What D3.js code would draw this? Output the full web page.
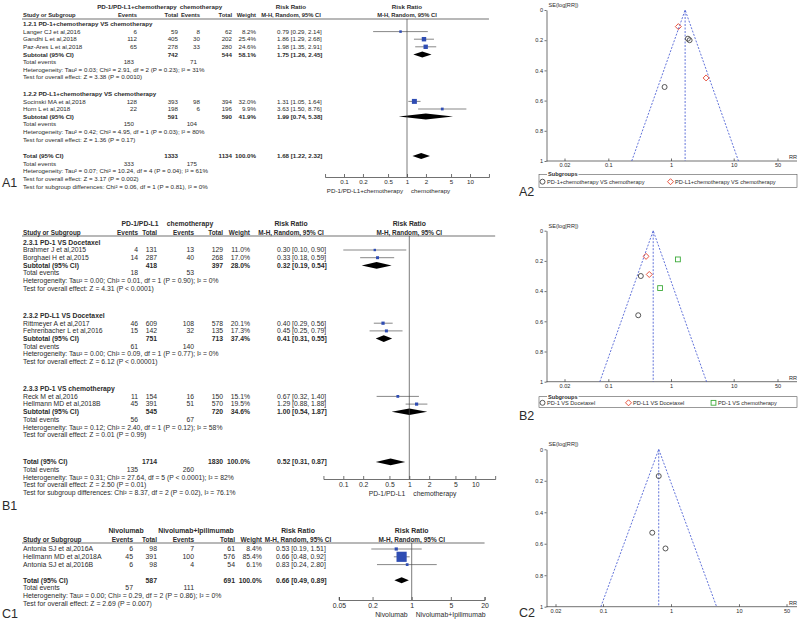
<!DOCTYPE html>
<html>
<head>
<meta charset="utf-8">
<script src="https://d3js.org/d3.v7.min.js"></script>
<style>
    body { margin: 0; background: #fff; }
    svg { display: block; font-family: "Liberation Sans", Arial, sans-serif; }
    text { fill: #2b2b2b; }
</style>
</head>
<body>
<svg id="chart" width="800" height="621"></svg>
<script>
// ---------- A1 : PD-1/PD-L1+chemotherapy vs chemotherapy ----------
var a1Arms = ['PD-1/PD-L1+chemotherapy', 'chemotherapy'];
var a1Subgroups = ['1.2.1 PD-1+chemotherapy VS chemotherapy', '1.2.2 PD-L1+chemotherapy VS chemotherapy'];
// study, subgroup, events, total, events, total, weight %, RR, lower, upper
var a1Studies = [
    ['Langer CJ et al,2016', 0, 6, 59, 8, 62, 8.2, 0.79, 0.29, 2.14],
    ['Gandhi L et al,2018', 0, 112, 405, 30, 202, 25.4, 1.86, 1.29, 2.68],
    ['Paz-Ares L et al,2018', 0, 65, 278, 33, 280, 24.6, 1.98, 1.35, 2.91],
    ['Socinski MA et al,2018', 1, 128, 393, 98, 394, 32.0, 1.31, 1.05, 1.64],
    ['Horn L et al,2018', 1, 22, 198, 6, 196, 9.9, 3.63, 1.50, 8.76]
];
// total, total, weight %, RR, lower, upper, events, events
var a1Subtotals = [
    [742, 544, 58.1, 1.75, 1.26, 2.45, 183, 71],
    [591, 590, 41.9, 1.99, 0.74, 5.38, 150, 104]
];
var a1SubNotes = [
    ['Heterogeneity: Tau\u00b2 = 0.03; Chi\u00b2 = 2.91, df = 2 (P = 0.23); I\u00b2 = 31%',
        'Test for overall effect: Z = 3.38 (P = 0.0010)'],
    ['Heterogeneity: Tau\u00b2 = 0.42; Chi\u00b2 = 4.95, df = 1 (P = 0.03); I\u00b2 = 80%',
        'Test for overall effect: Z = 1.36 (P = 0.17)']
];
var a1Overall = [1333, 1134, 100.0, 1.68, 1.22, 2.32, 333, 175];
var a1OverallNotes = [
    'Heterogeneity: Tau\u00b2 = 0.07; Chi\u00b2 = 10.24, df = 4 (P = 0.04); I\u00b2 = 61%',
    'Test for overall effect: Z = 3.17 (P = 0.002)',
    'Test for subgroup differences: Chi\u00b2 = 0.06, df = 1 (P = 0.81), I\u00b2 = 0%'
];
var a1Ticks = [0.1, 0.2, 0.5, 1, 2, 5, 10];
var a1Favours = ['PD-1/PD-L1+chemotherapy', 'chemotherapy'];

// ---------- B1 : PD-1/PD-L1 vs chemotherapy ----------
var b1Arms = ['PD-1/PD-L1', 'chemotherapy'];
var b1Subgroups = ['2.3.1 PD-1 VS Docetaxel', '2.3.2 PD-L1 VS Docetaxel', '2.3.3 PD-1 VS chemotherapy'];
var b1Studies = [
    ['Brahmer J et al,2015', 0, 4, 131, 13, 129, 11.0, 0.30, 0.10, 0.90],
    ['Borghaei H et al,2015', 0, 14, 287, 40, 268, 17.0, 0.33, 0.18, 0.59],
    ['Rittmeyer A et al,2017', 1, 46, 609, 108, 578, 20.1, 0.40, 0.29, 0.56],
    ['Fehrenbacher L et al,2016', 1, 15, 142, 32, 135, 17.3, 0.45, 0.25, 0.79],
    ['Reck M et al,2016', 2, 11, 154, 16, 150, 15.1, 0.67, 0.32, 1.40],
    ['Hellmann MD et al,2018B', 2, 45, 391, 51, 570, 19.5, 1.29, 0.88, 1.88]
];
var b1Subtotals = [
    [418, 397, 28.0, 0.32, 0.19, 0.54, 18, 53],
    [751, 713, 37.4, 0.41, 0.31, 0.55, 61, 140],
    [545, 720, 34.6, 1.00, 0.54, 1.87, 56, 67]
];
var b1SubNotes = [
    ['Heterogeneity: Tau\u00b2 = 0.00; Chi\u00b2 = 0.01, df = 1 (P = 0.90); I\u00b2 = 0%',
        'Test for overall effect: Z = 4.31 (P < 0.0001)'],
    ['Heterogeneity: Tau\u00b2 = 0.00; Chi\u00b2 = 0.09, df = 1 (P = 0.77); I\u00b2 = 0%',
        'Test for overall effect: Z = 6.12 (P < 0.00001)'],
    ['Heterogeneity: Tau\u00b2 = 0.12; Chi\u00b2 = 2.40, df = 1 (P = 0.12); I\u00b2 = 58%',
        'Test for overall effect: Z = 0.01 (P = 0.99)']
];
var b1Overall = [1714, 1830, 100.0, 0.52, 0.31, 0.87, 135, 260];
var b1OverallNotes = [
    'Heterogeneity: Tau\u00b2 = 0.31; Chi\u00b2 = 27.64, df = 5 (P < 0.0001); I\u00b2 = 82%',
    'Test for overall effect: Z = 2.50 (P = 0.01)',
    'Test for subgroup differences: Chi\u00b2 = 8.37, df = 2 (P = 0.02), I\u00b2 = 76.1%'
];
var b1Ticks = [0.1, 0.2, 0.5, 1, 2, 5, 10];
var b1Favours = ['PD-1/PD-L1', 'chemotherapy'];

// ---------- C1 : Nivolumab vs Nivolumab+Ipilimumab ----------
var c1Arms = ['Nivolumab', 'Nivolumab+Ipilimumab'];
var c1Studies = [
    ['Antonia SJ et al,2016A', 0, 6, 98, 7, 61, 8.4, 0.53, 0.19, 1.51],
    ['Hellmann MD et al,2018A', 0, 45, 391, 100, 576, 85.4, 0.66, 0.48, 0.92],
    ['Antonia SJ et al,2016B', 0, 6, 98, 4, 54, 6.1, 0.83, 0.24, 2.80]
];
var c1Overall = [587, 691, 100.0, 0.66, 0.49, 0.89, 57, 111];
var c1OverallNotes = [
    'Heterogeneity: Tau\u00b2 = 0.00; Chi\u00b2 = 0.29, df = 2 (P = 0.86); I\u00b2 = 0%',
    'Test for overall effect: Z = 2.69 (P = 0.007)'
];
var c1Ticks = [0.05, 0.2, 1, 5, 20];
var c1Favours = ['Nivolumab', 'Nivolumab+Ipilimumab'];

// ---------- funnel plots (SE of log RR, same study order as above) ----------
var a2SE = [0.51, 0.19, 0.20, 0.11, 0.45];
var a2Legend = ['PD-1+chemotherapy VS chemotherapy', 'PD-L1+chemotherapy VS chemotherapy'];
var b2SE = [0.56, 0.30, 0.17, 0.29, 0.38, 0.19];
var b2Legend = ['PD-1 VS Docetaxel', 'PD-L1 VS Docetaxel', 'PD-1 VS chemotherapy'];
var c2SE = [0.53, 0.17, 0.63];
var funnelXTicks = [0.02, 0.1, 1, 10, 50];
var funnelYTicks = [0, 0.2, 0.4, 0.6, 0.8, 1];

var svg = d3.select('#chart');
svg.append('rect').attr('width', 800).attr('height', 621).attr('fill', '#fff');

function label(g, x, y, s, anchor, bold) {
    return g.append('text')
        .attr('x', x)
        .attr('y', y)
        .attr('dy', '0.35em')
        .attr('text-anchor', anchor || 'start')
        .style('font-weight', bold ? 'bold' : null)
        .text(s);
}

function ciText(rr, lo, hi) {
    return rr.toFixed(2) + ' [' + lo.toFixed(2) + ', ' + hi.toFixed(2) + ']';
}

function drawForest(cfg) {
    var g = svg.append('g').style('font-size', cfg.fontSize + 'px');
    var c = cfg.cols;
    var x = d3.scaleLog().domain([0.05, 20])
        .range([cfg.x1 + cfg.decade * Math.log10(0.05), cfg.x1 + cfg.decade * Math.log10(20)]);

    // headers
    label(g, cfg.armX[0], cfg.h1, cfg.arms[0], 'middle', true);
    label(g, cfg.armX[1], cfg.h1, cfg.arms[1], 'middle', true);
    label(g, c.ciHead, cfg.h1, 'Risk Ratio', 'middle', true);
    label(g, x(1), cfg.h1, 'Risk Ratio', 'middle', true);
    var hg = g.append('g').style('font-size', (cfg.fontSize * 0.94) + 'px');
    label(hg, c.name, cfg.h2, 'Study or Subgroup', 'start', true);
    label(hg, c.expEv, cfg.h2, 'Events', 'end', true);
    label(hg, c.expTot, cfg.h2, 'Total', 'end', true);
    label(hg, c.ctlEv, cfg.h2, 'Events', 'end', true);
    label(hg, c.ctlTot, cfg.h2, 'Total', 'end', true);
    label(hg, c.weight, cfg.h2, 'Weight', 'end', true);
    label(hg, c.ciHead, cfg.h2, 'M-H, Random, 95% CI', 'middle', true);
    label(hg, x(1), cfg.h2, 'M-H, Random, 95% CI', 'middle', true);
    g.append('line')
        .attr('x1', c.name - 1).attr('x2', x(20))
        .attr('y1', cfg.lineY).attr('y2', cfg.lineY)
        .attr('stroke', '#333').attr('stroke-width', 0.7);

    // rows
    var rows = [];
    if (cfg.subgroups) {
        cfg.subgroups.forEach(function (name, i) {
            if (i > 0) rows.push({type: 'gap'});
            rows.push({type: 'head', text: name});
            cfg.studies.filter(function (s) { return s[1] === i; }).forEach(function (s) {
                rows.push({type: 'study', d: s});
            });
            rows.push({type: 'sub', text: 'Subtotal (95% CI)', d: cfg.subtotals[i]});
            rows.push({type: 'events', d: cfg.subtotals[i]});
            cfg.subNotes[i].forEach(function (t) { rows.push({type: 'note', text: t}); });
        });
    } else {
        cfg.studies.forEach(function (s) { rows.push({type: 'study', d: s}); });
    }
    rows.push({type: 'gap'});
    rows.push({type: 'sub', text: 'Total (95% CI)', d: cfg.overall});
    rows.push({type: 'events', d: cfg.overall});
    cfg.overallNotes.forEach(function (t) { rows.push({type: 'note', text: t}); });

    var y = cfg.y0;
    rows.forEach(function (r) {
        if (r.type === 'gap') { y += cfg.gap; return; }
        r.y = y;
        y += cfg.pitch;
    });

    rows.forEach(function (r) {
        var d = r.d;
        if (r.type === 'head') {
            label(g, c.name, r.y, r.text, 'start', true);
        } else if (r.type === 'study') {
            label(g, c.name, r.y, d[0]);
            label(g, c.expEv, r.y, d[2], 'end');
            label(g, c.expTot, r.y, d[3], 'end');
            label(g, c.ctlEv, r.y, d[4], 'end');
            label(g, c.ctlTot, r.y, d[5], 'end');
            label(g, c.weight, r.y, d[6].toFixed(1) + '%', 'end');
            label(g, c.ci, r.y, ciText(d[7], d[8], d[9]));
            g.append('line')
                .attr('x1', x(Math.max(d[8], 0.05))).attr('x2', x(Math.min(d[9], 20)))
                .attr('y1', r.y).attr('y2', r.y)
                .attr('stroke', '#555').attr('stroke-width', 0.7);
            var side = cfg.boxK * Math.sqrt(d[6]);
            g.append('rect')
                .attr('x', x(d[7]) - side / 2).attr('y', r.y - side / 2)
                .attr('width', side).attr('height', side)
                .attr('fill', '#2f4db3');
        } else if (r.type === 'sub') {
            label(g, c.name, r.y, r.text, 'start', true);
            label(g, c.expTot, r.y, d[0], 'end', true);
            label(g, c.ctlTot, r.y, d[1], 'end', true);
            label(g, c.weight, r.y, d[2].toFixed(1) + '%', 'end', true);
            label(g, c.ci, r.y, ciText(d[3], d[4], d[5]), 'start', true);
            var h = cfg.diamondH;
            g.append('path')
                .attr('d', 'M' + x(d[4]) + ',' + r.y + 'L' + x(d[3]) + ',' + (r.y - h) +
                    'L' + x(d[5]) + ',' + r.y + 'L' + x(d[3]) + ',' + (r.y + h) + 'Z')
                .attr('fill', '#000');
        } else if (r.type === 'events') {
            label(g, c.name, r.y, 'Total events');
            label(g, c.expEv + cfg.teShift, r.y, d[6], 'end');
            label(g, c.ctlEv + cfg.teShift, r.y, d[7], 'end');
        } else if (r.type === 'note') {
            label(g, c.name, r.y, r.text);
        }
    });

    // line of no effect
    g.append('line')
        .attr('x1', x(1)).attr('x2', x(1))
        .attr('y1', cfg.lineY).attr('y2', cfg.axisY)
        .attr('stroke', '#444').attr('stroke-width', 0.7);

    // axis
    var ax = g.append('g')
        .attr('transform', 'translate(0,' + cfg.axisY + ')')
        .call(d3.axisBottom(x)
            .tickValues(cfg.ticks)
            .tickFormat(function (d) { return String(d); })
            .tickSizeInner(-3)
            .tickSizeOuter(-3)
            .tickPadding(3));
    ax.attr('font-size', null).attr('font-family', null);
    ax.selectAll('path, line').attr('stroke', '#333').attr('stroke-width', 0.7);
    ax.selectAll('text').style('fill', '#2b2b2b');

    label(g, x(1) - 4, cfg.favY, cfg.favours[0], 'end');
    label(g, x(1) + 4, cfg.favY, cfg.favours[1], 'start');
}

function drawSymbol(g, type, cx, cy, color) {
    if (type === 0) {
        g.append('circle').attr('cx', cx).attr('cy', cy).attr('r', 2.5)
            .attr('fill', 'none').attr('stroke', color).attr('stroke-width', 0.9);
    } else if (type === 1) {
        var s = 3;
        g.append('path')
            .attr('d', 'M' + cx + ',' + (cy - s) + 'L' + (cx + s) + ',' + cy + 'L' + cx + ',' + (cy + s) +
                'L' + (cx - s) + ',' + cy + 'Z')
            .attr('fill', 'none').attr('stroke', color).attr('stroke-width', 0.9);
    } else {
        g.append('rect').attr('x', cx - 2.4).attr('y', cy - 2.4).attr('width', 4.8).attr('height', 4.8)
            .attr('fill', 'none').attr('stroke', color).attr('stroke-width', 0.9);
    }
}

var symbolColors = ['#444', '#e4432d', '#3dab3a'];

function drawFunnel(cfg) {
    var g = svg.append('g').style('font-size', '5.6px');
    var x = d3.scaleLog().domain([0.02, 50]).range([cfg.x002, cfg.x50]);
    var y = d3.scaleLinear().domain([0, 1]).range([cfg.yTop, cfg.yBot]);

    var ya = g.append('g')
        .attr('transform', 'translate(' + cfg.axX + ',0)')
        .call(d3.axisLeft(y)
            .tickValues(funnelYTicks)
            .tickFormat(function (d) { return String(d); })
            .tickSizeInner(2)
            .tickSizeOuter(0)
            .tickPadding(1.5));
    ya.attr('font-size', null).attr('font-family', null);
    ya.selectAll('path, line').attr('stroke', '#333').attr('stroke-width', 0.7);

    g.append('line')
        .attr('x1', cfg.axX).attr('x2', 797)
        .attr('y1', cfg.yBot).attr('y2', cfg.yBot)
        .attr('stroke', '#333').attr('stroke-width', 0.7);
    var xa = g.append('g')
        .attr('transform', 'translate(0,' + cfg.yBot + ')')
        .call(d3.axisBottom(x)
            .tickValues(funnelXTicks)
            .tickFormat(function (d) { return String(d); })
            .tickSizeInner(-2.5)
            .tickSizeOuter(0)
            .tickPadding(2.5));
    xa.attr('font-size', null).attr('font-family', null);
    xa.select('.domain').remove();
    xa.selectAll('line').attr('stroke', '#333').attr('stroke-width', 0.7);

    label(g, cfg.axX + 2, cfg.yTop - 5, 'SE(log[RR])');
    label(g, 797, cfg.yBot - 4, 'RR', 'end');

    // pseudo 95% confidence limits around the pooled estimate
    var p = cfg.pooled;
    var lo = p * Math.exp(-1.96), hi = p * Math.exp(1.96);
    var dashed = function (sel) {
        return sel.attr('fill', 'none').attr('stroke', '#3b50d0')
            .attr('stroke-width', 0.8).attr('stroke-dasharray', '2,1.5');
    };
    dashed(g.append('path')
        .attr('d', 'M' + x(lo) + ',' + y(1) + 'L' + x(p) + ',' + y(0) + 'L' + x(hi) + ',' + y(1)));
    dashed(g.append('line')
        .attr('x1', x(p)).attr('x2', x(p)).attr('y1', y(0)).attr('y2', y(1)));

    cfg.studies.forEach(function (s, i) {
        drawSymbol(g, s[1], x(s[7]), y(cfg.se[i]), symbolColors[s[1]]);
    });

    if (cfg.legend) {
        var L = cfg.legend;
        var lg = g.append('g');
        lg.append('rect')
            .attr('x', 539).attr('y', L.y1).attr('width', 258).attr('height', L.y2 - L.y1)
            .attr('fill', 'none').attr('stroke', '#555').attr('stroke-width', 0.6);
        var t = label(lg, 548, L.y1, 'Subgroups', 'start', true);
        var bb = t.node().getBBox();
        lg.insert('rect', 'text')
            .attr('x', bb.x - 1).attr('y', bb.y).attr('width', bb.width + 2).attr('height', bb.height)
            .attr('fill', '#fff');
        var my = (L.y1 + L.y2) / 2 + 0.7;
        L.labels.forEach(function (name, i) {
            drawSymbol(lg, i, L.x[i], my, symbolColors[i]);
            label(lg, L.x[i] + 4.5, my, name);
        });
    }
}

drawForest({
    arms: a1Arms, subgroups: a1Subgroups, studies: a1Studies, subtotals: a1Subtotals,
    subNotes: a1SubNotes, overall: a1Overall, overallNotes: a1OverallNotes,
    ticks: a1Ticks, favours: a1Favours,
    fontSize: 6.2, armX: [137, 201], h1: 6.5, h2: 15, lineY: 19,
    y0: 24, pitch: 7.6, gap: 9, teShift: -3,
    cols: {name: 23, expEv: 137, expTot: 178, ctlEv: 200, ctlTot: 232, weight: 256, ci: 277, ciHead: 291},
    x1: 407, decade: 63, axisY: 177, favY: 191, boxK: 0.88, diamondH: 3
});

drawForest({
    arms: b1Arms, subgroups: b1Subgroups, studies: b1Studies, subtotals: b1Subtotals,
    subNotes: b1SubNotes, overall: b1Overall, overallNotes: b1OverallNotes,
    ticks: b1Ticks, favours: b1Favours,
    fontSize: 6.8, armX: [140, 190], h1: 224, h2: 232.5, lineY: 236,
    y0: 242.3, pitch: 7.7, gap: 19.3, teShift: 0,
    cols: {name: 23, expEv: 138, expTot: 157, ctlEv: 194, ctlTot: 223, weight: 250, ci: 277, ciHead: 291},
    x1: 409.3, decade: 66, axisY: 479, favY: 494, boxK: 0.72, diamondH: 3.3
});

drawForest({
    arms: c1Arms, subgroups: null, studies: c1Studies,
    overall: c1Overall, overallNotes: c1OverallNotes,
    ticks: c1Ticks, favours: c1Favours,
    fontSize: 6.9, armX: [126, 196], h1: 530.7, h2: 539.5, lineY: 543,
    y0: 549, pitch: 7.8, gap: 7.8, teShift: 0,
    cols: {name: 23, expEv: 133, expTot: 157, ctlEv: 194, ctlTot: 235, weight: 262, ci: 276, ciHead: 298},
    x1: 411.7, decade: 56, axisY: 600, favY: 615, boxK: 1.1, diamondH: 3
});

drawFunnel({
    studies: a1Studies, se: a2SE, pooled: a1Overall[3],
    x002: 564.5, x50: 777.5, axX: 546.5, yTop: 10, yBot: 161,
    legend: {y1: 174.5, y2: 187.5, x: [542.5, 670.5], labels: a2Legend}
});

drawFunnel({
    studies: b1Studies, se: b2SE, pooled: b1Overall[3],
    x002: 564.5, x50: 777.5, axX: 546.5, yTop: 230.7, yBot: 381.7,
    legend: {y1: 396.7, y2: 407.5, x: [542.5, 628.5, 713.5], labels: b2Legend}
});

drawFunnel({
    studies: c1Studies, se: c2SE, pooled: c1Overall[3],
    x002: 555.5, x50: 786.5, axX: 546.5, yTop: 449.3, yBot: 606.7,
    legend: null
});

// panel letters
var panelNames = ['A1', 'B1', 'C1', 'A2', 'B2', 'C2'];
var panelPos = [[2, 187], [2, 510], [2, 618], [519, 196], [519, 420], [519, 617]];
panelNames.forEach(function (n, i) {
    svg.append('text')
        .attr('x', panelPos[i][0]).attr('y', panelPos[i][1])
        .style('font-size', '12.5px')
        .text(n);
});
</script>
</body>
</html>
